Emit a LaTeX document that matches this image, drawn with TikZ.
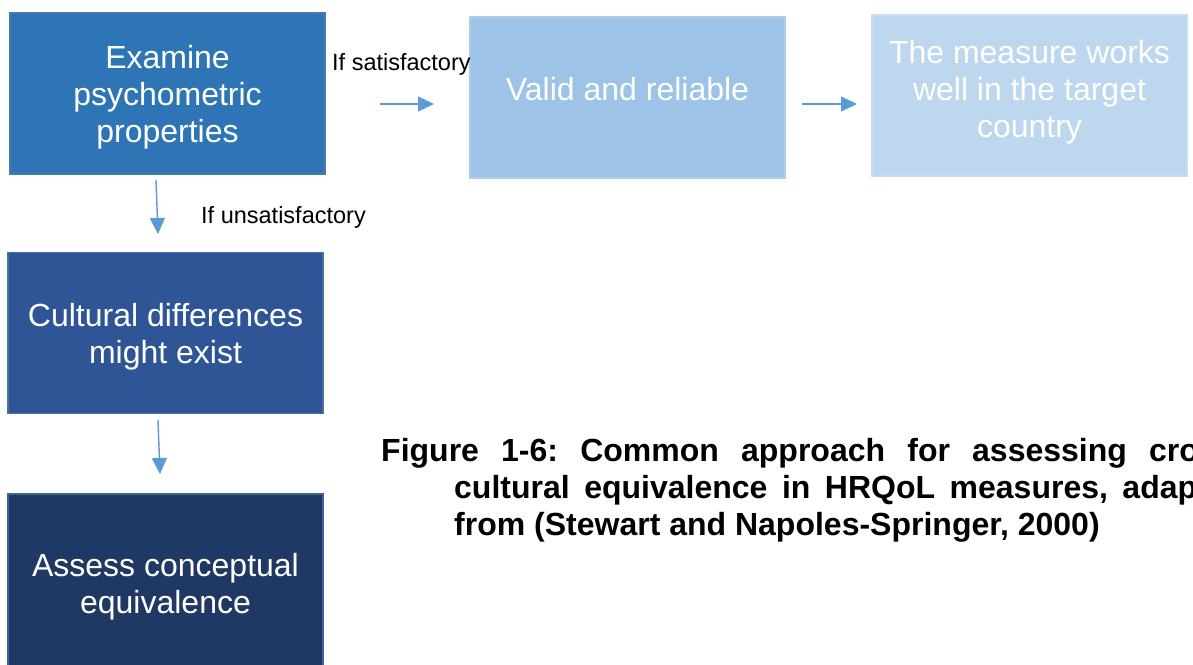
\documentclass[tikz,border=0pt]{standalone}
\usepackage{fontspec}
\setmainfont{Liberation Sans}
\usetikzlibrary{arrows.meta}
\frenchspacing

\definecolor{stepA}{HTML}{2E75B6}
\definecolor{stepAedge}{HTML}{4A79AD}
\definecolor{stepB}{HTML}{9DC3E6}
\definecolor{stepC}{HTML}{BDD7EE}
\definecolor{stepD}{HTML}{2F5597}
\definecolor{stepDedge}{HTML}{4672A6}
\definecolor{stepE}{HTML}{203864}
\definecolor{stepEedge}{HTML}{3E6596}
\definecolor{flowblue}{HTML}{5B9BD5}

\newcommand{\boxfont}{\fontsize{32pt}{37pt}\selectfont}
\newcommand{\notefont}{\fontsize{23.5pt}{28pt}\selectfont}
\newcommand{\capfont}{\fontsize{32pt}{37pt}\selectfont\bfseries}

\tikzset{
  stepbox/.style={rectangle, minimum width=315pt, minimum height=161pt,
    inner sep=0pt, line width=1.2pt},
  steptext/.style={inner sep=0pt, align=center, text=white, font=\boxfont},
  note/.style={inner sep=0pt, anchor=base west, font=\notefont},
  capline/.style={inner sep=0pt, anchor=base west, font=\capfont},
  flow/.style={draw=flowblue, line width=1.4pt,
    -{Triangle[length=16pt,width=15pt]}},
}

\begin{document}
\begin{tikzpicture}[x=1pt, y=-1pt]
  \useasboundingbox (0,0) rectangle (1193,664);
  \fill[white] (0,0) rectangle (1193,664);
  \clip (0,0) rectangle (1193,664);

  % process boxes
  \node[stepbox, fill=stepA, draw=stepAedge] (b1) at (167.5,93.5) {};
  \node[stepbox, fill=stepB, draw=stepB!85!white] (b2) at (627.5,97.5) {};
  \node[stepbox, fill=stepC, draw=stepC!85!white] (b3) at (1029.5,95.5) {};
  \node[stepbox, fill=stepD, draw=stepDedge] (b4) at (165.5,333) {};
  \node[stepbox, minimum height=180pt, fill=stepE, draw=stepEedge] (b5) at (165.5,584) {};

  % box captions
  \node[steptext] (t1) at ([yshift=-4pt]b1.center) {Examine\\psychometric\\properties};
  \node[steptext] (t2) at ([yshift=8pt]b2.center) {Valid and reliable};
  \node[steptext] (t3) at ([yshift=3.5pt]b3.center) {The measure works\\well in the target\\country};
  \node[steptext] (t4) at ([yshift=-4pt]b4.center) {Cultural differences\\might exist};
  \node[steptext] (t5) at ([yshift=-3pt]b5.center) {Assess conceptual\\equivalence};

  % free-standing arrows between the boxes
  \coordinate (a1s) at (380,104);  \coordinate (a1e) at (434,104);
  \coordinate (a2s) at (802,104);  \coordinate (a2e) at (857,104);
  \coordinate (a3s) at (156,180);  \coordinate (a3e) at (158,234);
  \coordinate (a4s) at (158,420);  \coordinate (a4e) at (160,474);
  \draw[flow] (a1s) -- (a1e);
  \draw[flow] (a2s) -- (a2e);
  \draw[flow] (a3s) -- (a3e);
  \draw[flow] (a4s) -- (a4e);

  % decision labels
  \node[note] (n1) at (332,70) {If satisfactory};
  \node[note] (n2) at (201,223) {If unsatisfactory};

  % figure caption (justified, with hanging indent)
  \node[capline] (cap1) at (381,461)
    {\makebox[864pt][s]{Figure 1-6: Common approach for assessing cross-}};
  \node[capline] (cap2) at (454,498)
    {\makebox[791pt][s]{cultural equivalence in HRQoL measures, adapted}};
  \node[capline] (cap3) at (454,535)
    {from (Stewart and Napoles-Springer, 2000)};
\end{tikzpicture}
\end{document}
